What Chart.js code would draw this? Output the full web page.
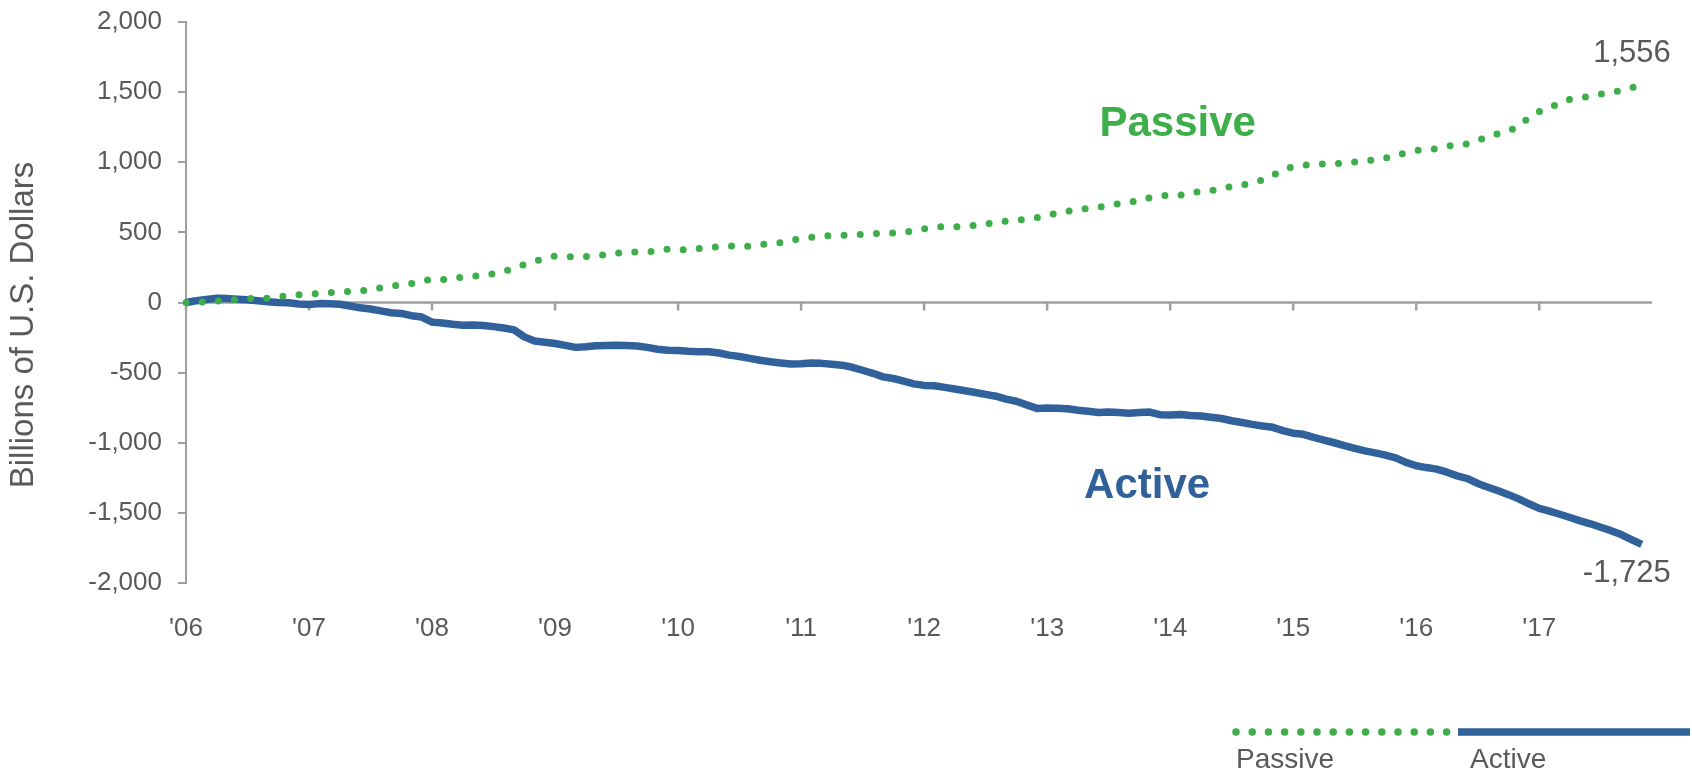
<!DOCTYPE html>
<html>
<head>
<meta charset="utf-8">
<script src="https://cdn.jsdelivr.net/npm/chart.js@4.4.1/dist/chart.umd.min.js"></script>
<style>
  html, body { margin: 0; padding: 0; background: #ffffff; }
  #wrap { width: 1692px; height: 773px; position: relative; }
</style>
</head>
<body>
<div id="wrap"><canvas id="myChart"></canvas></div>
<script>
// categories: monthly, Jan 2006 .. Dec 2017
const years = ["06", "07", "08", "09", "10", "11", "12", "13", "14", "15", "16", "17"];
const monthNames = ["Jan", "Feb", "Mar", "Apr", "May", "Jun", "Jul", "Aug", "Sep", "Oct", "Nov", "Dec"];
const labels = [];
years.forEach((yr) => monthNames.forEach((m) => labels.push(m + " '" + yr)));

// cumulative flows, billions of USD (Jan 2006 .. Nov 2017)
const passiveFlows = [
  0, 3, 5, 9, 15, 22, 28, 30, 30, 38, 51, 55,
  60, 65, 71, 77, 79, 82, 92, 104, 117, 128, 136, 150,
  168, 164, 170, 182, 186, 195, 205, 222, 245, 271, 292, 315,
  331, 328, 324, 327, 333, 343, 351, 358, 361, 361, 366, 381,
  378, 373, 385, 393, 397, 403, 404, 401, 411, 422, 427, 444,
  456, 465, 473, 478, 478, 482, 486, 490, 494, 496, 502, 510,
  525, 536, 544, 540, 544, 550, 559, 569, 581, 587, 595, 605,
  620, 638, 650, 661, 671, 680, 690, 705, 713, 731, 747, 760,
  765, 765, 783, 792, 798, 811, 829, 838, 852, 874, 908, 941,
  971, 978, 985, 989, 989, 993, 1002, 1010, 1018, 1031, 1043, 1071,
  1084, 1089, 1097, 1115, 1123, 1132, 1157, 1181, 1205, 1222, 1258, 1318,
  1361, 1388, 1421, 1449, 1459, 1471, 1485, 1499, 1510, 1530, 1556
];
const activeFlows = [
  0, 12, 22, 30, 28, 24, 20, 12, 5, 0, -2, -10,
  -15, -8, -9, -13, -25, -38, -46, -60, -73, -78, -94, -104,
  -140, -146, -155, -162, -160, -164, -172, -182, -195, -245, -275, -283,
  -292, -306, -320, -315, -308, -306, -305, -307, -310, -320, -333, -340,
  -342, -348, -351, -351, -360, -375, -385, -398, -412, -423, -431, -438,
  -437, -432, -434, -440, -447, -462, -483, -505, -530, -542, -560, -580,
  -591, -594, -605, -617, -629, -642, -655, -668, -689, -704, -730, -755,
  -753, -754, -757, -768, -776, -784, -781, -784, -790, -785, -781, -800,
  -802, -798, -805, -809, -818, -827, -843, -856, -869, -880, -890, -913,
  -932, -940, -962, -981, -1000, -1020, -1040, -1058, -1072, -1088, -1108, -1140,
  -1164, -1177, -1188, -1210, -1236, -1255, -1290, -1317, -1342, -1370, -1400, -1435,
  -1468, -1488, -1510, -1533, -1557, -1578, -1603, -1627, -1655, -1690, -1725
];

const FONT = "'Liberation Sans', Arial, sans-serif";
const TEXT_GRAY = "#595959";
const AXIS_GRAY = "#a0a0a0";
const GREEN = "#3dae49";
const BLUE = "#31619a";

const fmt = (v) => Number(v).toLocaleString("en-US");

// horizontal axis line sits on the zero value, with yearly tick marks
const zeroAxis = {
  id: "zeroAxis",
  beforeDatasetsDraw(chart) {
    const { ctx, chartArea: { left, right }, scales: { x, y } } = chart;
    const y0 = y.getPixelForValue(0);
    ctx.save();
    ctx.strokeStyle = AXIS_GRAY;
    ctx.lineWidth = 2.5;
    ctx.beginPath();
    ctx.moveTo(left, y0);
    ctx.lineTo(right, y0);
    for (let i = 0; i < labels.length; i += 12) {
      const px = x.getPixelForValue(i);
      ctx.moveTo(px, y0);
      ctx.lineTo(px, y0 + 8);
    }
    ctx.stroke();
    ctx.restore();
  },
};

// series names, end values and the axis title
const annotations = {
  id: "annotations",
  afterDatasetsDraw(chart) {
    const { ctx, scales: { x, y } } = chart;
    ctx.save();

    ctx.textAlign = "left";
    ctx.textBaseline = "alphabetic";
    ctx.font = `bold 42px ${FONT}`;
    ctx.fillStyle = GREEN;
    ctx.fillText("Passive", x.getPixelForValue(89.1), y.getPixelForValue(1190));
    ctx.fillStyle = BLUE;
    ctx.fillText("Active", x.getPixelForValue(87.6), y.getPixelForValue(-1397));

    // last values
    ctx.font = `31px ${FONT}`;
    ctx.fillStyle = TEXT_GRAY;
    ctx.textAlign = "right";
    chart.data.datasets.forEach((ds, i) => {
      const pts = chart.getDatasetMeta(i).data;
      const last = pts[pts.length - 1];
      const val = ds.data[ds.data.length - 1];
      const dy = val >= 0 ? -22 : 38;
      ctx.fillText(fmt(val), last.x + 29, last.y + dy);
    });

    // y axis title
    ctx.font = `33px ${FONT}`;
    ctx.textAlign = "center";
    ctx.textBaseline = "middle";
    ctx.translate(24, 325);
    ctx.rotate(-Math.PI / 2);
    ctx.fillText("Billions of U.S. Dollars", 0, 0);
    ctx.restore();
  },
};

// legend in the bottom right: line sample with the name below it
const bottomLegend = {
  id: "bottomLegend",
  afterDraw(chart) {
    const { ctx } = chart;
    const slots = [
      { x0: 1236, x1: 1450, tx: 1236 },
      { x0: 1458, x1: 1690, tx: 1470 },
    ];
    ctx.save();
    chart.data.datasets.forEach((ds, i) => {
      const s = slots[i];
      ctx.beginPath();
      ctx.strokeStyle = ds.borderColor;
      ctx.lineWidth = 7.5;
      ctx.lineCap = ds.borderCapStyle || "butt";
      ctx.setLineDash(ds.borderDash || []);
      ctx.moveTo(s.x0, 732);
      ctx.lineTo(s.x1, 732);
      ctx.stroke();
      ctx.setLineDash([]);
      ctx.font = `28px ${FONT}`;
      ctx.fillStyle = TEXT_GRAY;
      ctx.textAlign = "left";
      ctx.textBaseline = "alphabetic";
      ctx.fillText(ds.label, s.tx, 768);
    });
    ctx.restore();
  },
};

const myChart = new Chart(document.getElementById("myChart"), {
  type: "line",
  data: {
    labels: labels,
    datasets: [
      {
        label: "Passive",
        data: passiveFlows,
        borderColor: GREEN,
        borderWidth: 7,
        borderDash: [0, 16.2],
        borderCapStyle: "round",
        pointRadius: 0,
        tension: 0,
      },
      {
        label: "Active",
        data: activeFlows,
        borderColor: BLUE,
        borderWidth: 7.5,
        borderJoinStyle: "round",
        pointRadius: 0,
        tension: 0,
      },
    ],
  },
  options: {
    responsive: true,
    maintainAspectRatio: false,
    animation: false,
    events: [],
    layout: { padding: { left: 0, right: 40, top: 22, bottom: 130 } },
    plugins: {
      legend: { display: false },
      tooltip: { enabled: false },
    },
    scales: {
      x: {
        type: "category",
        grid: { display: false },
        border: { display: false },
        ticks: {
          autoSkip: false,
          maxRotation: 0,
          padding: 22,
          color: TEXT_GRAY,
          font: { family: FONT, size: 26 },
          callback: (v, i) => (i % 12 === 0 ? "'" + years[i / 12] : null),
        },
        afterFit: (s) => { s.height = 60; },
      },
      y: {
        min: -2000,
        max: 2000,
        ticks: {
          stepSize: 500,
          padding: 16,
          color: TEXT_GRAY,
          font: { family: FONT, size: 26 },
          callback: (v) => fmt(v),
        },
        grid: { drawOnChartArea: false, tickLength: 8, color: AXIS_GRAY, lineWidth: 2 },
        border: { color: AXIS_GRAY, width: 2 },
        afterFit: (s) => { s.width = 186; s.paddingTop = 0; s.paddingBottom = 0; },
      },
    },
  },
  plugins: [zeroAxis, annotations, bottomLegend],
});
</script>
</body>
</html>
